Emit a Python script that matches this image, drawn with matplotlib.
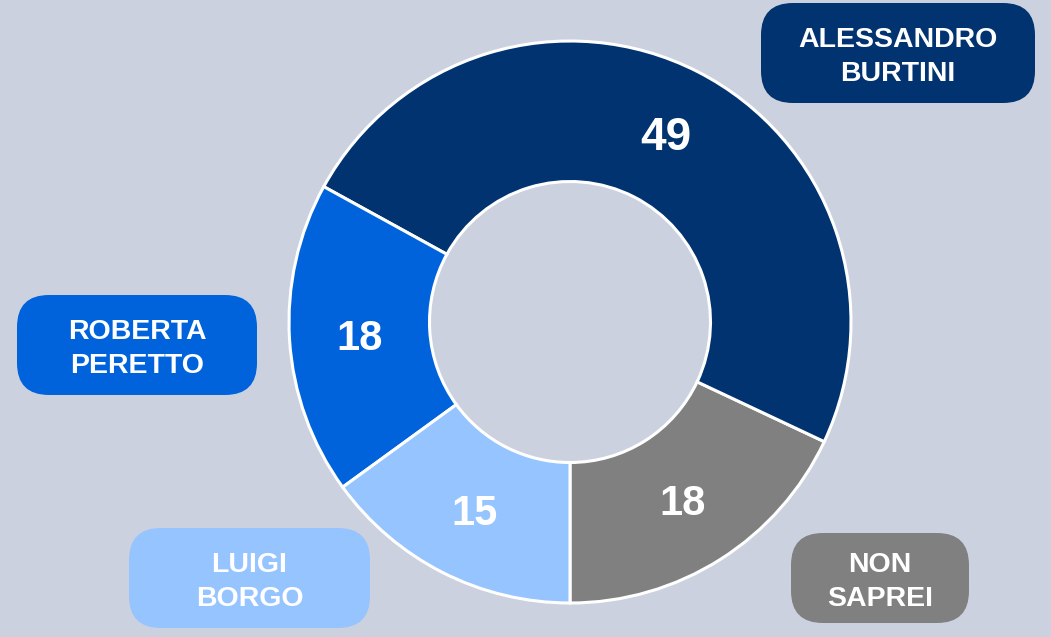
import matplotlib.pyplot as plt
from matplotlib.patches import FancyBboxPatch

# data (counterclockwise from 6 o'clock)
names = ['NON\nSAPREI', 'ALESSANDRO\nBURTINI', 'ROBERTA\nPERETTO', 'LUIGI\nBORGO']
values = [18, 49, 18, 15]
colors = ['#808080', '#00336F', '#0063DC', '#96C4FF']
bg = '#CBD1DF'

W, H = 1051, 637
fig = plt.figure(figsize=(W / 100, H / 100), dpi=100, facecolor=bg)
ax = fig.add_axes([0, 0, 1, 1])
ax.set_facecolor(bg)

cx, cy, r = 570, H - 322, 281
wedges, _, autotexts = ax.pie(
    values, colors=colors, startangle=270, counterclock=True,
    center=(cx, cy), radius=r, frame=True,
    autopct=lambda p: f'{round(p)}', pctdistance=0.75,
    wedgeprops=dict(width=r * 0.5, edgecolor='white', linewidth=2.2),
    textprops=dict(color='white', fontsize=30, fontweight='bold',
                   family='Liberation Sans'))
autotexts[1].set_fontsize(33)
for t in autotexts:
    x, y = t.get_position()
    t.set_position((x, y - 4))
ax.set_xlim(0, W)
ax.set_ylim(0, H)
ax.axis('off')

# label boxes: (x0, y0 top, width, height) in pixel coords
boxes = [(791, 533, 178, 90), (761, 3, 274, 100), (17, 295, 240, 100), (129, 528, 241, 100)]
for (x0, y0, w, h), name, c in zip(boxes, names, colors):
    ax.add_patch(FancyBboxPatch((x0, H - y0 - h), w, h,
                                boxstyle='round,pad=0,rounding_size=32',
                                facecolor=c, edgecolor='none'))
    ax.text(x0 + w / 2, H - y0 - h / 2 - 4, name, ha='center', va='center',
            color='white', fontsize=20.5, fontweight='bold',
            family='Liberation Sans', linespacing=1.4)

fig.savefig('out.png', dpi=100, facecolor=bg)
